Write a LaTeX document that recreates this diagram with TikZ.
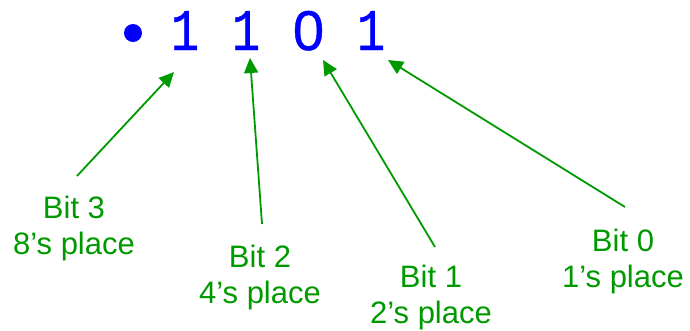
\documentclass[tikz,border=0pt]{standalone}
\usepackage{fontspec}
\setmainfont{Liberation Sans}
\newfontfamily\digitfont[FakeBold=0.8]{Liberation Mono}
\newfontfamily\zerofont[FakeBold=0.8]{Liberation Sans}
\usetikzlibrary{arrows.meta}
\definecolor{bitblue}{RGB}{0,0,255}
\definecolor{bitgreen}{RGB}{0,153,0}
\tikzset{
  digit/.style={inner sep=0pt, anchor=base, text=bitblue, xscale=0.8,
    font=\digitfont\fontsize{59}{60}\selectfont},
  zerodigit/.style={inner sep=0pt, anchor=base, text=bitblue,
    font=\zerofont\fontsize{56}{60}\selectfont},
  bitlabel/.style={inner sep=0pt, anchor=north, align=center, text=bitgreen,
    font=\fontsize{31}{36}\selectfont},
  pointer/.style={draw=bitgreen, line width=1.8pt,
    -{Triangle[length=15pt,width=14pt]}}
}
\begin{document}
\begin{tikzpicture}[x=1pt,y=-1pt]
  \useasboundingbox (0,0) rectangle (690,330);

  % the bit pattern
  \fill[bitblue] (133,33) circle (9);
  \node[digit] (d3) at (185,50) {1};
  \node[digit] (d2) at (246,50) {1};
  \node[zerodigit] (d1) at (308.5,50) {0};
  \node[digit] (d0) at (371,50) {1};

  % place-value captions
  \node[bitlabel] (b3) at (74,196) {Bit 3\\8’s place};
  \node[bitlabel] (b2) at (260,245) {Bit 2\\4’s place};
  \node[bitlabel] (b1) at (431,265) {Bit 1\\2’s place};
  \node[bitlabel] (b0) at (623,229) {Bit 0\\1’s place};

  % arrow ends
  \coordinate (t3) at (77,176);
  \coordinate (t2) at (262,224);
  \coordinate (t1) at (435,247);
  \coordinate (t0) at (625,207);
  \coordinate (h3) at (174,72);
  \coordinate (h2) at (250,58);
  \coordinate (h1) at (323,60);
  \coordinate (h0) at (388,60);

  \draw[pointer] (t3) -- (h3);
  \draw[pointer] (t2) -- (h2);
  \draw[pointer] (t1) -- (h1);
  \draw[pointer] (t0) -- (h0);
\end{tikzpicture}
\end{document}
